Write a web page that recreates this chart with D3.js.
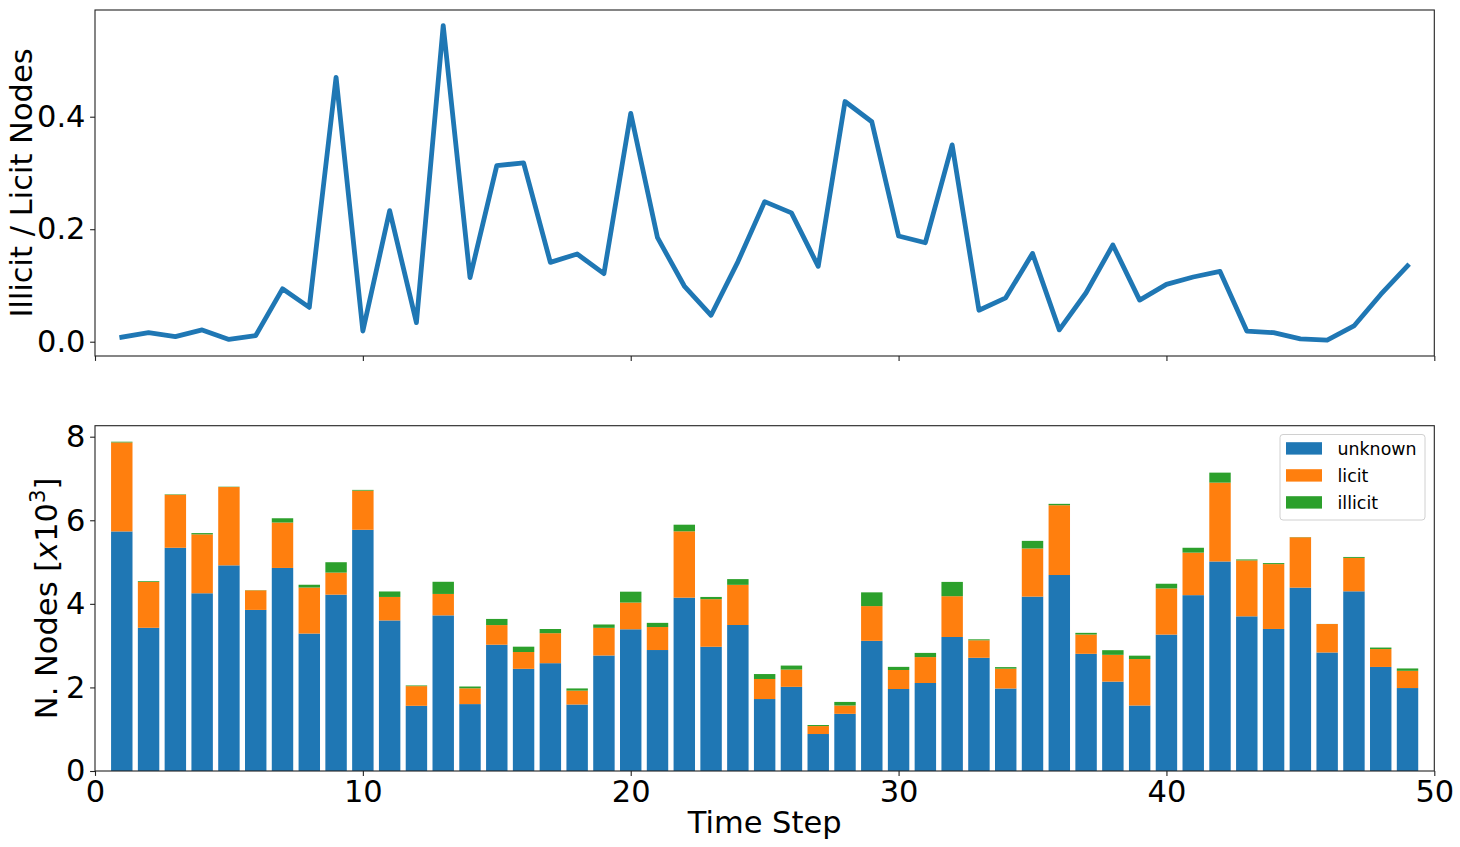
<!DOCTYPE html>
<html>
<head>
<meta charset="utf-8">
<script src="https://cdn.jsdelivr.net/npm/d3@7"></script>
<style>
  html, body { margin: 0; padding: 0; background: #fff; }
  svg { display: block; font-family: "DejaVu Sans", sans-serif; }
</style>
</head>
<body>
<svg id="chart" width="1460" height="847"></svg>
<script>
// ---- data (counts in thousands) ----
const timeSteps = d3.range(1, 50);
const unknown = [5.733, 3.427, 5.342, 4.253, 4.921, 3.855, 4.859, 3.289, 4.220, 5.772,
  3.603, 1.560, 3.724, 1.601, 3.022, 2.445, 2.580, 1.591, 2.764, 3.391,
  2.895, 4.148, 2.973, 3.494, 1.722, 2.014, 0.885, 1.368, 3.115, 1.962,
  2.106, 3.207, 2.709, 1.974, 4.173, 4.690, 2.804, 2.139, 1.567, 3.264,
  4.208, 5.014, 3.701, 3.399, 4.388, 2.836, 4.300, 2.490, 1.985];
const licit = [2.130, 1.099, 1.268, 1.410, 1.874, 0.468, 1.087, 1.101, 0.528, 0.937,
  0.562, 0.471, 0.513, 0.378, 0.470, 0.402, 0.718, 0.333, 0.662, 0.640,
  0.550, 1.588, 1.139, 0.961, 0.480, 0.413, 0.190, 0.200, 0.831, 0.455,
  0.620, 0.976, 0.419, 0.475, 1.152, 1.670, 0.462, 0.641, 1.112, 1.105,
  1.018, 1.887, 1.338, 1.552, 1.205, 0.681, 0.800, 0.428, 0.413];
const illicit = [0.017, 0.018, 0.011, 0.030, 0.008, 0.005, 0.102, 0.067, 0.248, 0.018,
  0.131, 0.016, 0.291, 0.043, 0.147, 0.128, 0.100, 0.052, 0.080, 0.260,
  0.100, 0.158, 0.053, 0.137, 0.118, 0.096, 0.025, 0.085, 0.329, 0.075,
  0.100, 0.342, 0.023, 0.037, 0.182, 0.033, 0.040, 0.111, 0.081, 0.112,
  0.116, 0.239, 0.024, 0.024, 0.005, 0.002, 0.022, 0.036, 0.056];
const ratio = [0.008, 0.016, 0.009, 0.021, 0.004, 0.011, 0.094, 0.061, 0.470, 0.019,
  0.233, 0.034, 0.562, 0.114, 0.313, 0.318, 0.141, 0.156, 0.121, 0.406,
  0.185, 0.099, 0.047, 0.142, 0.249, 0.229, 0.134, 0.427, 0.391, 0.188,
  0.176, 0.350, 0.056, 0.078, 0.157, 0.021, 0.087, 0.172, 0.074, 0.102,
  0.115, 0.125, 0.019, 0.016, 0.005, 0.003, 0.028, 0.084, 0.135];
const seriesKeys = ["unknown", "licit", "illicit"];
const seriesColors = ["#1f77b4", "#ff7f0e", "#2ca02c"];
const xTicks = [0, 10, 20, 30, 40, 50];
const topYTicks = [0.0, 0.2, 0.4];
const botYTicks = [0, 2, 4, 6, 8];

// ---- layout ----
const svg = d3.select("#chart");
const L = 95, R = 1434.3;
const topT = 10, topB = 356;
const botT = 425.7, botB = 771;
const TICK = 4.9, PAD = 4.6;
const tickFont = 30.5, labelFont = 30.5;

const x = d3.scaleLinear().domain([0, 50]).range([L, R]);
const yTop = d3.scaleLinear().domain([-0.0254, 0.5897]).range([topB, topT]);
const yBot = d3.scaleLinear().domain([0, 8.263]).range([botB, botT]);

// ---- top panel: line ----
const lineData = timeSteps.map((t, i) => ({ t, v: ratio[i] }));
svg.append("path")
  .datum(lineData)
  .attr("fill", "none")
  .attr("stroke", "#1f77b4")
  .attr("stroke-width", 4.8)
  .attr("stroke-linejoin", "round")
  .attr("stroke-linecap", "square")
  .attr("d", d3.line().x(d => x(d.t)).y(d => yTop(d.v)));

// ---- bottom panel: stacked bars ----
const rows = timeSteps.map((t, i) => ({ t, unknown: unknown[i], licit: licit[i], illicit: illicit[i] }));
const stacked = d3.stack().keys(seriesKeys)(rows);
const barW = x(0.8) - x(0);
svg.append("g").selectAll("g")
  .data(stacked)
  .join("g")
  .attr("fill", (d, i) => seriesColors[i])
  .selectAll("rect")
  .data(d => d)
  .join("rect")
  .attr("x", d => x(d.data.t - 0.4))
  .attr("width", barW)
  .attr("y", d => yBot(d[1]))
  .attr("height", d => yBot(d[0]) - yBot(d[1]));

// ---- axes ----
function styleAxis(g) {
  g.select(".domain").remove();
  g.selectAll(".tick line").attr("stroke", "#222").attr("stroke-width", 1.1);
  g.selectAll(".tick text").attr("fill", "#000").attr("font-size", tickFont)
    .attr("font-family", "DejaVu Sans");
}

svg.append("g")
  .attr("transform", `translate(0,${topB})`)
  .call(d3.axisBottom(x).tickValues(xTicks).tickSize(TICK).tickFormat(""))
  .call(styleAxis);

svg.append("g")
  .attr("transform", `translate(${L},0)`)
  .call(d3.axisLeft(yTop).tickValues(topYTicks).tickSize(TICK).tickPadding(PAD).tickFormat(d3.format(".1f")))
  .call(styleAxis);

svg.append("g")
  .attr("transform", `translate(0,${botB})`)
  .call(d3.axisBottom(x).tickValues(xTicks).tickSize(TICK).tickPadding(4).tickFormat(d3.format("d")))
  .call(styleAxis);

svg.append("g")
  .attr("transform", `translate(${L},0)`)
  .call(d3.axisLeft(yBot).tickValues(botYTicks).tickSize(TICK).tickPadding(PAD).tickFormat(d3.format("d")))
  .call(styleAxis);

// frames
[[topT, topB], [botT, botB]].forEach(([t, b]) => {
  svg.append("rect")
    .attr("x", L).attr("y", t)
    .attr("width", R - L).attr("height", b - t)
    .attr("fill", "none").attr("stroke", "#222").attr("stroke-width", 1.1);
});

// ---- axis labels ----
svg.append("text")
  .attr("transform", `translate(31.5,${(topT + topB) / 2}) rotate(-90)`)
  .attr("text-anchor", "middle")
  .attr("font-size", labelFont)
  .text("Illicit / Licit Nodes");

const yl = svg.append("text")
  .attr("transform", `translate(57,${(botT + botB) / 2}) rotate(-90)`)
  .attr("text-anchor", "middle")
  .attr("font-size", labelFont);
yl.append("tspan").text("N. Nodes [");
yl.append("tspan").attr("font-style", "italic").text("x");
yl.append("tspan").text("10");
yl.append("tspan").attr("font-size", labelFont * 0.7).attr("dy", -12).text("3");
yl.append("tspan").attr("dy", 12).text("]");

svg.append("text")
  .attr("x", (L + R) / 2).attr("y", 833)
  .attr("text-anchor", "middle")
  .attr("font-size", labelFont)
  .text("Time Step");

// ---- legend ----
const leg = svg.append("g");
leg.append("rect")
  .attr("x", 1280).attr("y", 434.5).attr("width", 145).attr("height", 85.5)
  .attr("rx", 3).attr("fill", "#fff").attr("fill-opacity", 0.8)
  .attr("stroke", "#d0d0d0").attr("stroke-width", 1);
seriesKeys.forEach((k, i) => {
  const cy = 448.4 + i * 27;
  leg.append("rect").attr("x", 1286).attr("y", cy - 6.2).attr("width", 36).attr("height", 12.4)
    .attr("fill", seriesColors[i]);
  leg.append("text").attr("x", 1337.5).attr("y", cy + 6.8)
    .attr("font-size", 17.4).text(k);
});
</script>
</body>
</html>
